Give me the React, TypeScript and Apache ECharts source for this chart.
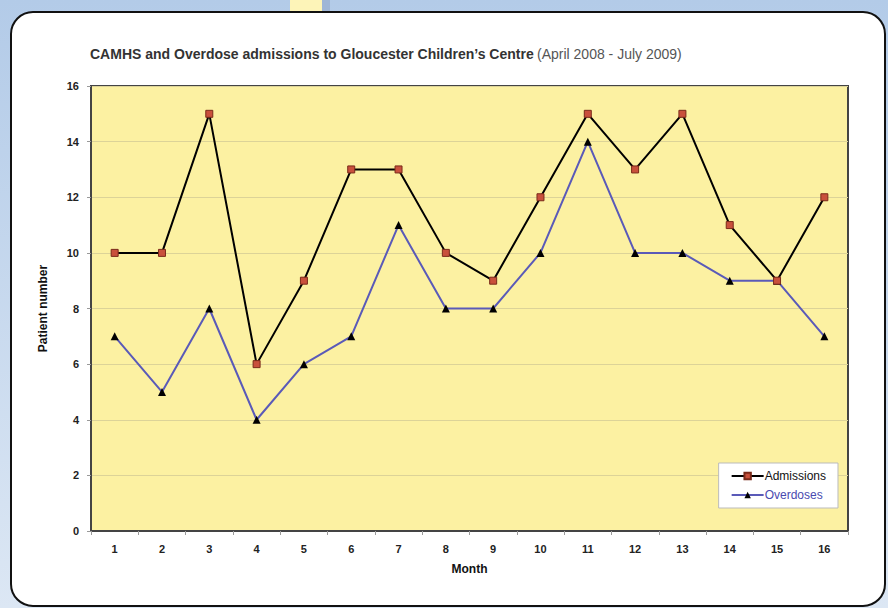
import React, { useEffect, useRef } from "react";
import * as echarts from "echarts";

const months = ["1", "2", "3", "4", "5", "6", "7", "8", "9", "10", "11", "12", "13", "14", "15", "16"];
const admissions = [10, 10, 15, 6, 9, 13, 13, 10, 9, 12, 15, 13, 15, 11, 9, 12];
const overdoses = [7, 5, 8, 4, 6, 7, 11, 8, 8, 10, 14, 10, 10, 9, 9, 7];
const yTicks = { min: 0, max: 16, interval: 2 };

export default function App() {
  const ref = useRef<HTMLDivElement>(null);
  useEffect(() => {
    document.body.style.margin = "0";
    const chart = echarts.init(ref.current!, null, { renderer: "svg" });
    chart.setOption({
      animation: false,
      textStyle: { fontFamily: "Liberation Sans, Arial, sans-serif" },
      graphic: [
        {
          type: "rect",
          z: -100,
          shape: { x: 0, y: 0, width: 888, height: 608 },
          style: {
            fill: new echarts.graphic.LinearGradient(0, 0, 0, 1, [
              { offset: 0, color: "#b3cbe8" },
              { offset: 1, color: "#dce7f4" },
            ]),
          },
        },
        { type: "rect", z: -99, shape: { x: 322, y: 0, width: 8, height: 12 }, style: { fill: "#9fb6d6" } },
        { type: "rect", z: -99, shape: { x: 290, y: 0, width: 32, height: 12 }, style: { fill: "#fdf4b8" } },
        {
          type: "rect",
          z: -98,
          shape: { x: 11, y: 12, width: 874, height: 594, r: 22 },
          style: { fill: "#ffffff", stroke: "#111111", lineWidth: 2 },
        },
        {
          type: "text",
          z: 10,
          x: 90,
          y: 47,
          style: {
            text: "{b|CAMHS and Overdose admissions to Gloucester Children’s Centre} {n|(April 2008 - July 2009)}",
            rich: {
              b: { fontSize: 14, fontWeight: "bold", fill: "#333", fontFamily: "Liberation Sans, sans-serif" },
              n: { fontSize: 14, fill: "#555", fontFamily: "Liberation Sans, sans-serif" },
            },
          },
        },
      ],
      grid: {
        left: 91,
        right: 40,
        top: 86,
        bottom: 77,
        show: true,
        backgroundColor: "#fcf1a2",
        borderColor: "#444",
        borderWidth: 2,
      },
      legend: {
        orient: "vertical",
        right: 50,
        bottom: 100,
        backgroundColor: "#ffffff",
        borderColor: "#bbb",
        borderWidth: 1,
        padding: [7, 12, 7, 12],
        itemGap: 7,
        itemWidth: 32,
        itemHeight: 8,
        data: [
          { name: "Admissions", textStyle: { color: "#111" } },
          { name: "Overdoses", textStyle: { color: "#4a4ab0" } },
        ],
        textStyle: { fontSize: 12, padding: [0, 0, 0, -4] },
      },
      xAxis: {
        type: "category",
        data: months,
        name: "Month",
        nameLocation: "middle",
        nameGap: 32,
        nameTextStyle: { fontWeight: "bold", fontSize: 12, color: "#111" },
        axisLine: { show: true, lineStyle: { color: "#444", width: 2 } },
        axisTick: { show: true, alignWithLabel: false, length: 4, lineStyle: { color: "#999" } },
        axisLabel: { fontSize: 11, fontWeight: "bold", color: "#222", margin: 12 },
      },
      yAxis: {
        type: "value",
        min: yTicks.min,
        max: yTicks.max,
        interval: yTicks.interval,
        name: "Patient number",
        nameLocation: "middle",
        nameGap: 42,
        nameTextStyle: { fontWeight: "bold", fontSize: 12, color: "#111" },
        axisLine: { show: true, lineStyle: { color: "#444", width: 2 } },
        axisTick: { show: true, length: 4, lineStyle: { color: "#999" } },
        axisLabel: { fontSize: 11, fontWeight: "bold", color: "#222", margin: 12 },
        splitLine: { show: true, lineStyle: { color: "#dcd398", width: 1 } },
      },
      series: [
        {
          name: "Admissions",
          type: "line",
          data: admissions,
          symbol: "rect",
          symbolSize: 7,
          lineStyle: { color: "#000", width: 2 },
          itemStyle: { color: "#c9503c", borderColor: "#7a2a1a", borderWidth: 1 },
          z: 3,
        },
        {
          name: "Overdoses",
          type: "line",
          data: overdoses,
          symbol: "triangle",
          symbolSize: 8,
          lineStyle: { color: "#5a5ab8", width: 2 },
          itemStyle: { color: "#000", borderWidth: 0 },
          z: 2,
        },
      ],
    });
    return () => chart.dispose();
  }, []);
  return <div ref={ref} style={{ width: 888, height: 608 }} />;
}
